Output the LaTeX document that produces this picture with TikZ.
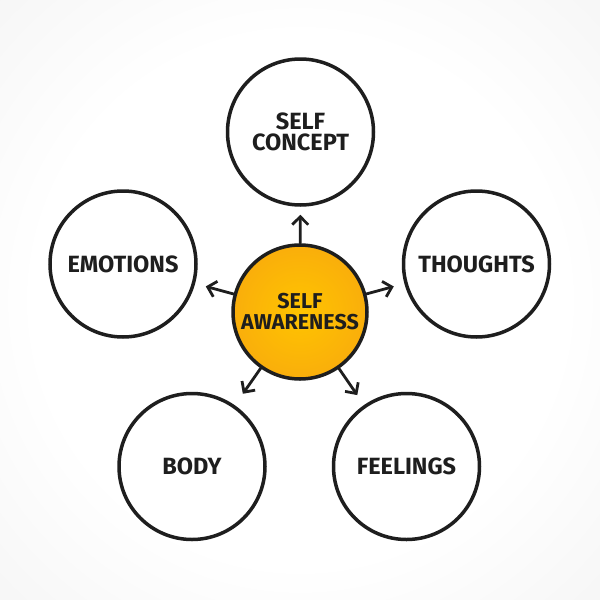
\documentclass[tikz,border=0pt]{standalone}
\usepackage{fontspec}
\setmainfont{Fira Sans}
\usetikzlibrary{arrows.meta}
\definecolor{ink}{HTML}{1E1E1E}
\definecolor{yel}{HTML}{FFC400}
\definecolor{org}{HTML}{F39418}
\pgfdeclareradialshading{bgshade}{\pgfpoint{0bp}{0bp}}{color(0bp)=(white); color(22bp)=(white); color(50bp)=(black!7); color(71bp)=(black!13)}
\pgfdeclareradialshading{orangeshade}{\pgfpoint{0bp}{0bp}}{color(0bp)=(yel); color(22bp)=(yel!60!org); color(50bp)=(org)}
\tikzset{
  lbl/.style={text=ink, align=center, font=\fontsize{23.5}{21.5}\selectfont\bfseries},
  bubble/.style={lbl, circle, draw=ink, line width=3.5pt, fill=white, minimum size=146pt, inner sep=0pt},
  hub/.style={circle, draw=ink, line width=3.5pt, shading=orangeshade, minimum size=134pt, inner sep=0pt, text=ink, align=center, font=\fontsize{21.5}{21}\selectfont\bfseries},
  arr/.style={draw=ink, line width=2.8pt, line cap=round, -{Straight Barb[length=8pt,width=16pt,line width=2.8pt]}, shorten >=11pt}
}
\begin{document}
\begin{tikzpicture}[x=1pt,y=-1pt]
\shade[shading=bgshade] (0,0) rectangle (600,600);
\useasboundingbox (0,0) rectangle (600,600);
\node[hub] (c) at (300,312) {SELF\\AWARENESS};
\node[bubble] (sc) at (300.5,132) {SELF\\CONCEPT};
\node[bubble] (th) at (476.5,264) {THOUGHTS};
\node[bubble] (em) at (123,264) {EMOTIONS};
\node[bubble] (bo) at (192,466.5) {BODY};
\node[bubble] (fe) at (406.5,466.5) {FEELINGS};
\draw[arr, shorten >=8pt] (c) -- (sc);
\draw[arr] (c) -- (th);
\draw[arr] (c) -- (em);
\draw[arr, shorten >=14pt] (c) -- (bo);
\draw[arr, shorten >=12pt] (c) -- (fe);
\end{tikzpicture}
\end{document}
